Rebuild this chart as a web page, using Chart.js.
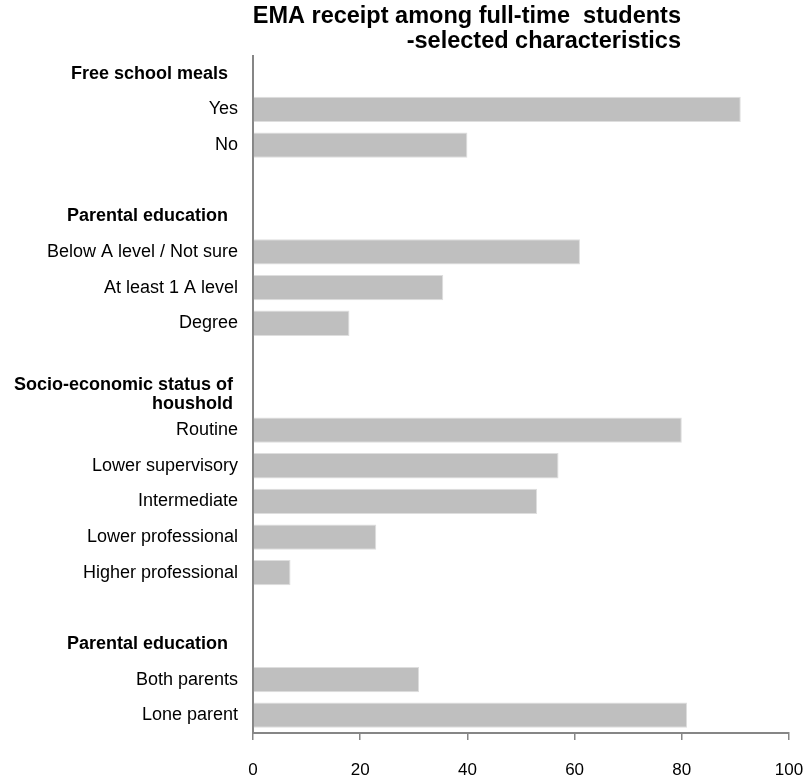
<!DOCTYPE html>
<html>
<head>
<meta charset="utf-8">
<script src="https://cdn.jsdelivr.net/npm/chart.js@4"></script>
<style>
  body { margin: 0; background: #fff; }
  #wrap { width: 807px; height: 779px; position: relative; }
</style>
</head>
<body>
<div id="wrap"><canvas id="chart"></canvas></div>
<script>
// chart data
const titleLines = ['EMA receipt among full-time  students', '-selected characteristics'];
const categories = [
    'Free school meals  ', 'Yes', 'No', '',
    'Parental education  ', 'Below A level / Not sure', 'At least 1 A level', 'Degree', '',
    ['Socio-economic status of ', 'houshold '], 'Routine', 'Lower supervisory', 'Intermediate',
    'Lower professional', 'Higher professional', '',
    'Parental education  ', 'Both parents', 'Lone parent'
];
const headerRows = [0, 4, 9, 16];
const receipt = [null, 91, 40, null, null, 61, 35.5, 18, null, null, 80, 57, 53, 23, 7, null, null, 31, 81];
const xTicks = [0, 20, 40, 60, 80, 100];

const fontFamily = "'Liberation Sans', Arial, sans-serif";

// two-line title, right aligned like the original
const titlePlugin = {
    id: 'topTitle',
    afterDraw(chart) {
        const ctx = chart.ctx;
        ctx.save();
        ctx.font = 'bold 23.5px ' + fontFamily;
        ctx.fillStyle = '#000';
        ctx.textAlign = 'right';
        ctx.textBaseline = 'middle';
        ctx.fillText(titleLines[0], 681, 17);
        ctx.fillText(titleLines[1], 681, 42);
        ctx.restore();
    }
};

new Chart(document.getElementById('chart').getContext('2d'), {
    type: 'bar',
    data: {
        labels: categories,
        datasets: [{
            data: receipt,
            backgroundColor: '#bfbfbf',
            borderColor: '#dedede',
            borderWidth: 1,
            barPercentage: 0.71,
            categoryPercentage: 1
        }]
    },
    options: {
        indexAxis: 'y',
        responsive: true,
        maintainAspectRatio: false,
        animation: false,
        layout: { padding: { top: 56, right: 18, left: 0, bottom: 0 } },
        plugins: {
            legend: { display: false },
            tooltip: { enabled: false },
            title: { display: false }
        },
        scales: {
            x: {
                min: 0,
                max: 100,
                afterFit: s => { s.height = 46; s.paddingLeft = 0; s.paddingRight = 0 },
                afterBuildTicks: s => { s.ticks = xTicks.map(v => ({ value: v })) },
                grid: { drawOnChartArea: false, drawTicks: true, tickLength: 7, color: '#868686', lineWidth: 1.5 },
                border: { display: true, color: '#868686', width: 2 },
                ticks: {
                    padding: 20,
                    color: '#000',
                    font: { family: fontFamily, size: 17 }
                }
            },
            y: {
                afterFit: s => { s.width = 253 },
                grid: { display: false, drawTicks: false },
                border: { display: true, color: '#868686', width: 2 },
                ticks: {
                    padding: 15,
                    autoSkip: false,
                    color: '#000',
                    font: ctx => headerRows.includes(ctx.index)
                        ? { family: fontFamily, size: 18, weight: 'bold', lineHeight: 1.1 }
                        : { family: fontFamily, size: 18, lineHeight: 1.1 }
                }
            }
        }
    },
    plugins: [titlePlugin]
});
</script>
</body>
</html>
